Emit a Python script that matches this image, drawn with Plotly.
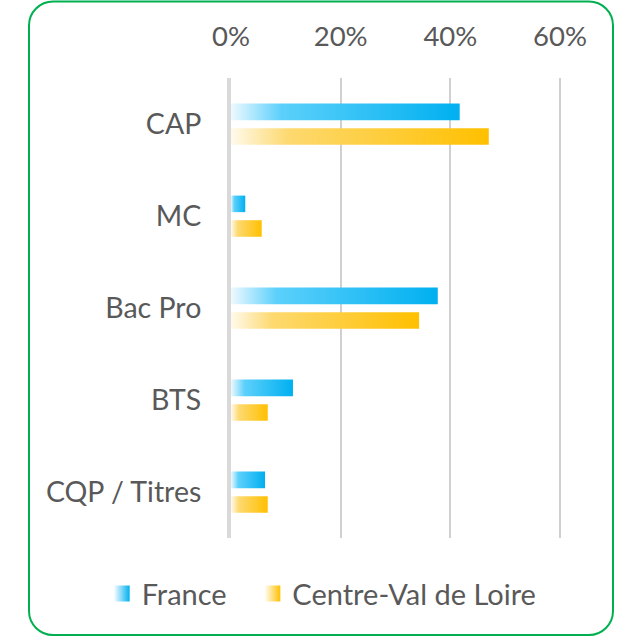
import plotly.graph_objects as go

# Share of apprentices by diploma type (%)
categories = ["CAP", "MC", "Bac Pro", "BTS", "CQP / Titres"]
france = [41.7, 2.6, 37.7, 11.3, 6.2]
centre_val_de_loire = [47.0, 5.6, 34.3, 6.7, 6.7]
tick_values = [0, 20, 40, 60]
tick_labels = ["0%", "20%", "40%", "60%"]

W, H = 620, 637
L, R, T, B = 231, 38, 78, 99
TEXT = "#595959"
FONT = "Lato"

BLUE_SCALE = [[0, "#EEF9FE"], [0.22, "#5CD0FB"], [1, "#00B0F0"]]
GOLD_SCALE = [[0, "#FFFAEC"], [0.22, "#FDD970"], [1, "#FFC000"]]

series = [
    ("France", france, -0.132, BLUE_SCALE, "#00B0F0", "legend", 0.164),
    ("Centre-Val de Loire", centre_val_de_loire, 0.136, GOLD_SCALE, "#FFC000", "legend2", 0.407),
]
half = 0.09  # half bar thickness in category units

fig = go.Figure()

# bars drawn as filled rectangles so each can carry its own horizontal gradient
for name, values, offset, scale, *_ in series:
    for i, v in enumerate(values):
        yc = i + offset
        fig.add_trace(go.Scatter(
            x=[0, v, v, 0, 0],
            y=[yc - half, yc - half, yc + half, yc + half, yc - half],
            mode="lines", line=dict(width=0),
            fill="toself",
            fillgradient=dict(type="horizontal", colorscale=scale),
            hoverinfo="skip", showlegend=False,
        ))

# legend entries, one legend box per series so they sit side by side
legend_layout = {}
for name, _, _, _, color, legend_id, lx in series:
    fig.add_trace(go.Scatter(
        x=[None], y=[None], mode="markers", name=name, legend=legend_id,
        marker=dict(symbol="square", size=17, color="white",
                    gradient=dict(type="horizontal", color=color),
                    line=dict(width=0)),
    ))
    legend_layout[legend_id] = dict(
        orientation="h", xref="container", yref="container",
        x=lx, xanchor="left", y=0.068, yanchor="middle",
        font=dict(size=29, color=TEXT, family=FONT),
        itemclick=False, itemdoubleclick=False,
        bgcolor="rgba(0,0,0,0)",
    )

plot_w = W - L - R
plot_h = H - T - B


def px(x):
    return (x - L) / plot_w


def py(y):
    return (H - B - y) / plot_h


# rounded green frame
x0, x1, y0, y1, r = 29, 613, 1.5, 635, 24
path = (
    f"M {px(x0 + r)},{py(y0)} L {px(x1 - r)},{py(y0)} "
    f"C {px(x1 - r * 0.45)},{py(y0)} {px(x1)},{py(y0 + r * 0.45)} {px(x1)},{py(y0 + r)} "
    f"L {px(x1)},{py(y1 - r)} "
    f"C {px(x1)},{py(y1 - r * 0.45)} {px(x1 - r * 0.45)},{py(y1)} {px(x1 - r)},{py(y1)} "
    f"L {px(x0 + r)},{py(y1)} "
    f"C {px(x0 + r * 0.45)},{py(y1)} {px(x0)},{py(y1 - r * 0.45)} {px(x0)},{py(y1 - r)} "
    f"L {px(x0)},{py(y0 + r)} "
    f"C {px(x0)},{py(y0 + r * 0.45)} {px(x0 + r * 0.45)},{py(y0)} {px(x0 + r)},{py(y0)} Z"
)
fig.add_shape(type="path", path=path, xref="paper", yref="paper",
              line=dict(color="#00B050", width=2), layer="above")

fig.update_layout(
    width=W, height=H,
    margin=dict(l=L, r=R, t=T, b=B),
    paper_bgcolor="white", plot_bgcolor="white",
    font=dict(family=FONT, color=TEXT, size=28),
    xaxis=dict(
        range=[0, 64], side="top",
        tickvals=tick_values, ticktext=tick_labels,
        showgrid=True, gridcolor="#D0D0D0", gridwidth=2,
        zeroline=False, showline=False, ticks="",
        ticklabelstandoff=26,
        tickfont=dict(size=27.5, color=TEXT, family=FONT),
        fixedrange=True,
    ),
    yaxis=dict(
        range=[4.5, -0.5],
        tickvals=list(range(len(categories))), ticktext=categories,
        showgrid=False, zeroline=False, ticks="",
        showline=True, linecolor="#D9D9D9", linewidth=4,
        ticklabelstandoff=20,
        tickfont=dict(size=28.5, color=TEXT, family=FONT),
        fixedrange=True,
    ),
    showlegend=True,
    **legend_layout,
)

fig.write_html("out.html")
